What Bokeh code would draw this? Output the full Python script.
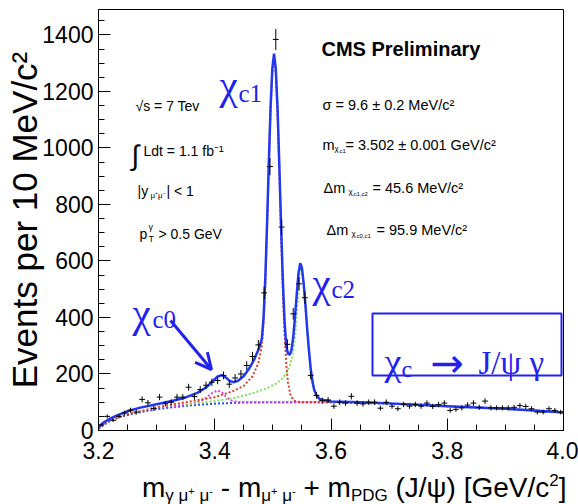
import numpy as np
from bokeh.plotting import figure
from bokeh.layouts import column
from bokeh.models import Label, Arrow, OpenHead, BoxAnnotation, FixedTicker, ColumnDataSource, Div
from bokeh.embed import file_html
from bokeh.resources import INLINE

# ---------------- data ----------------
bin_centres = [round(3.205 + 0.01 * i, 3) for i in range(80)]
counts = [20, 50, 36, 50, 62, 72, 65, 110, 98, 78,
          118, 95, 100, 118, 118, 153, 120, 145, 160, 171,
          177, 195, 164, 186, 200, 230, 262, 303, 487, 934,
          1384, 720, 305, 413, 519, 470, 195, 124, 106, 108,
          86, 100, 97, 121, 97, 94, 100, 100, 79, 100,
          86, 77, 92, 86, 92, 86, 97, 85, 92, 97,
          71, 75, 80, 90, 97, 82, 104, 80, 80, 80,
          80, 82, 88, 85, 77, 65, 65, 77, 71, 65]

fit_x = [3.200, 3.205, 3.210, 3.220, 3.230, 3.250, 3.270, 3.300, 3.330, 3.350,
         3.370, 3.385, 3.395, 3.405, 3.412, 3.419, 3.426, 3.432, 3.440, 3.450,
         3.460, 3.468, 3.476, 3.481, 3.484, 3.487, 3.490, 3.493, 3.496, 3.499,
         3.502, 3.505, 3.508, 3.511, 3.514, 3.517, 3.520, 3.523, 3.526, 3.529,
         3.532, 3.535, 3.538, 3.541, 3.544, 3.547, 3.550, 3.553, 3.556, 3.559,
         3.562, 3.565, 3.568, 3.571, 3.575, 3.580, 3.590, 3.600, 3.650, 3.700,
         3.750, 3.800, 3.850, 3.900, 3.950, 4.000]
fit_y = [10, 22, 30, 42, 52, 68, 80, 93, 106, 117,
         133, 152, 172, 191, 196, 188, 175, 171, 176, 193,
         222, 252, 290, 325, 400, 540, 732, 946, 1142, 1280,
         1334, 1280, 1142, 946, 732, 540, 390, 300, 272, 268,
         285, 330, 400, 480, 555, 592, 575, 520, 445, 360,
         285, 220, 175, 145, 125, 112, 106, 103, 100, 96,
         91, 86, 81, 77, 71, 64]

chic1_x = [3.200, 3.220, 3.250, 3.300, 3.350, 3.400, 3.430, 3.450, 3.465, 3.475,
           3.481, 3.484, 3.487, 3.490, 3.493, 3.496, 3.499, 3.502, 3.505, 3.508,
           3.511, 3.514, 3.517, 3.520, 3.523, 3.526, 3.530, 3.535, 3.540, 3.550, 3.600]
chic1_y = [8, 36, 58, 82, 100, 118, 138, 158, 192, 238,
           300, 380, 520, 720, 935, 1130, 1268, 1322, 1268, 1128,
           930, 712, 505, 345, 235, 170, 128, 108, 102, 100, 100]

chic2_x = [3.350, 3.380, 3.400, 3.436, 3.470, 3.490, 3.505, 3.515, 3.522, 3.529,
           3.534, 3.538, 3.541, 3.544, 3.547, 3.550, 3.553, 3.556, 3.559, 3.562,
           3.565, 3.568, 3.571, 3.575, 3.580, 3.590, 3.600]
chic2_y = [92, 100, 104, 116, 135, 150, 165, 182, 198, 230,
           265, 330, 410, 500, 580, 568, 515, 440, 355, 280,
           215, 170, 140, 120, 108, 103, 101]

chic0_x = [3.330, 3.360, 3.375, 3.385, 3.395, 3.405, 3.413, 3.420, 3.428, 3.440, 3.500, 3.600]
chic0_y = [86, 94, 103, 115, 132, 142, 134, 118, 106, 101, 100, 101]

bkg_x = [3.200, 3.210, 3.220, 3.240, 3.270, 3.300, 3.330, 3.360, 3.400, 3.450,
         3.500, 3.600, 3.700, 3.800, 3.900, 4.000]
bkg_y = [5, 22, 34, 50, 64, 75, 83, 89, 95, 99, 100, 100, 95, 86, 77, 64]

x_ticks = [3.2, 3.4, 3.6, 3.8, 4.0]
x_tick_labels = ["3.2", "3.4", "3.6", "3.8", "4.0"]
y_ticks = [0, 200, 400, 600, 800, 1000, 1200, 1400]
y_tick_labels = ["0", "200", "400", "600", "800", "1000", "1200", "1400"]

# ---------------- figure ----------------
X0, X1, Y0, Y1 = 3.2, 4.0, 0, 1490
FL, FR, FT, FB = 98, 563, 9, 430   # frame in page px (for placing annotations)
W, H_PLOT, H_TITLE = 578, 468, 36


def X(px):
    return X0 + (px - FL) * (X1 - X0) / (FR - FL)


def Y(py):
    return Y0 + (FB - py) * (Y1 - Y0) / (FB - FT)


p = figure(width=W, height=H_PLOT, x_range=(X0, X1), y_range=(Y0, Y1),
           output_backend="svg", toolbar_location=None,
           min_border_left=FL, min_border_right=W - FR, min_border_top=FT,
           min_border_bottom=H_PLOT - FB)
p.background_fill_color = "white"
p.border_fill_color = "white"
p.outline_line_color = "black"
p.outline_line_width = 1
p.xgrid.visible = False
p.ygrid.visible = False

minor_x = [round(3.2 + 0.05 * i, 2) for i in range(17)]
minor_y = list(range(0, 1500, 50))
p.xaxis.ticker = FixedTicker(ticks=x_ticks, minor_ticks=minor_x)
p.yaxis.ticker = FixedTicker(ticks=y_ticks, minor_ticks=minor_y)
p.xaxis.major_label_overrides = {t: l for t, l in zip(x_ticks, x_tick_labels)}
p.yaxis.major_label_overrides = {t: l for t, l in zip(y_ticks, y_tick_labels)}
for ax in (p.xaxis, p.yaxis):
    ax.major_tick_in = 12
    ax.major_tick_out = 0
    ax.minor_tick_in = 6
    ax.minor_tick_out = 0
    ax.axis_line_color = "black"
    ax.major_tick_line_color = "black"
    ax.minor_tick_line_color = "black"
    ax.major_label_text_font = "Liberation Sans"
    ax.major_label_text_font_size = "23px"
    ax.major_label_text_color = "black"
p.xaxis.major_label_standoff = 11
p.yaxis.major_label_standoff = 5

p.yaxis.axis_label = "Events per 10 MeV/c²"
p.yaxis.axis_label_text_font = "Liberation Sans"
p.yaxis.axis_label_text_font_size = "35px"
p.yaxis.axis_label_text_font_style = "normal"
p.yaxis.axis_label_text_color = "black"
p.yaxis.axis_label_standoff = -5

# ---------------- curves ----------------
p.line(bkg_x, bkg_y, line_color="#2a4cff", line_width=2, line_dash="2 2")
p.line(chic0_x, chic0_y, line_color="#e040e0", line_width=2, line_dash="2 2")
p.line(chic2_x, chic2_y, line_color="#7fe060", line_width=2, line_dash="2 2")
p.line(chic1_x, chic1_y, line_color="#e03a2a", line_width=2, line_dash="2 2")
p.line(fit_x, fit_y, line_color="#2238f0", line_width=2.5)

# ---------------- data points ----------------
cnt = np.array(counts, dtype=float)
err = np.sqrt(cnt)
xc = np.array(bin_centres)
src = ColumnDataSource(dict(x=xc, y=cnt, lo=cnt - err, hi=cnt + err,
                            xl=xc - 0.005, xr=xc + 0.005))
p.segment(x0="x", y0="lo", x1="x", y1="hi", source=src, line_color="black", line_width=1)
p.segment(x0="xl", y0="y", x1="xr", y1="y", source=src, line_color="black", line_width=1)


# ---------------- texts ----------------
def txt(s, px, py, size, font="Liberation Sans", color="black", style="normal",
        align="left", baseline="alphabetic", angle=0.0):
    p.add_layout(Label(x=X(px), y=Y(py), text=s, text_font=font,
                       text_font_size=f"{size}px", text_color=color,
                       text_font_style=style, text_align=align,
                       text_baseline=baseline, angle=angle))


# left block
txt("√s = 7 Tev", 135, 105, 14)
txt("∫", 131, 155, 28)
txt("Ldt = 1.1 fb⁻¹", 143, 150, 14)
txt("|y", 137, 190, 14)
txt("μ⁺μ⁻", 150, 195, 8)
txt("| < 1", 166, 190, 14)
txt("p", 139, 233, 14)
txt("γ", 148, 226, 9)
txt("T", 148, 238, 9)
txt("> 0.5 GeV", 158, 233, 14)

# right block
txt("CMS Preliminary", 321, 48, 20, style="bold")
txt("σ = 9.6 ± 0.2 MeV/c²", 322, 104, 14.5)
txt("m", 322, 144, 14.5)
txt("χ", 334, 148, 8)
txt("c1", 339, 150, 6)
txt("= 3.502 ± 0.001 GeV/c²", 345, 144, 14.5)
txt("Δm", 323, 187, 14.5)
txt("χ", 348, 191, 8)
txt("c1,c2", 353, 193, 6)
txt("= 45.6 MeV/c²", 372, 187, 14.5)
txt("Δm", 326, 229, 14.5)
txt("χ", 351, 233, 8)
txt("c0,c1", 356, 235, 6)
txt("= 95.9 MeV/c²", 376, 229, 14.5)

# peak labels
BLUE = "#2222ee"
SERIF = "Liberation Serif"
txt("χ", 219, 84, 41, font=SERIF, color=BLUE)
txt("c1", 238, 93, 25, font=SERIF, color=BLUE)
txt("χ", 312, 282, 41, font=SERIF, color=BLUE)
txt("c2", 331, 289, 25, font=SERIF, color=BLUE)
txt("χ", 132, 312, 41, font=SERIF, color=BLUE)
txt("c0", 152, 319, 25, font=SERIF, color=BLUE)

p.add_layout(Arrow(end=OpenHead(size=16, line_color=BLUE, line_width=3),
                   x_start=X(170), y_start=Y(320), x_end=X(211), y_end=Y(369),
                   line_color=BLUE, line_width=3))

# decay box
p.add_layout(BoxAnnotation(left=X(372), right=X(561), top=Y(313), bottom=Y(375),
                           fill_color=None, line_color=BLUE, line_width=2, line_alpha=1))
txt("χ", 384, 361, 38, font=SERIF, color=BLUE)
txt("c", 401, 368, 24, font=SERIF, color=BLUE)
txt("→", 430, 362, 40, font="DejaVu Sans", color=BLUE)
txt("J/ψ γ", 478, 362, 33, font=SERIF, color=BLUE)

# x-axis title (HTML, with sub/superscripts)
sub = '<sub style="font-size:17px;vertical-align:-4px;line-height:0;">'
sup_s = '<sup style="font-size:11px;vertical-align:6px;line-height:0;">'
sup_m = '<sup style="font-size:17px;vertical-align:11px;line-height:0;">'
x_title = Div(
    text=(f'<div style="padding-left:142px;line-height:31px;white-space:nowrap;">'
          f'm{sub}γ μ{sup_s}+</sup> μ{sup_s}-</sup></sub> - '
          f'm{sub}μ{sup_s}+</sup> μ{sup_s}-</sup></sub> + '
          f'm{sub}PDG</sub> (J/ψ) [GeV/c{sup_m}2</sup>]</div>'),
    width=W, height=H_TITLE, margin=0,
    styles={"font-family": "Liberation Sans", "font-size": "28px", "color": "black",
            "background-color": "white"})

layout = column(p, x_title, spacing=0)
open("out.html", "w").write(file_html(layout, INLINE))
